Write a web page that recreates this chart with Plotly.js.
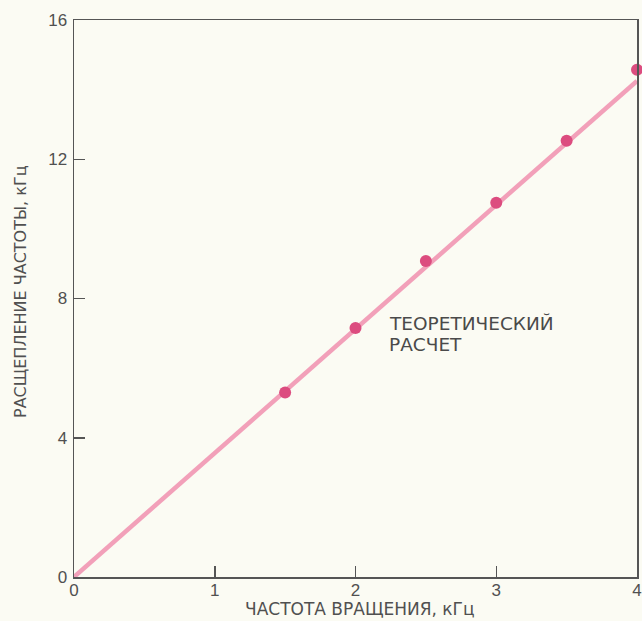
<!DOCTYPE html>
<html>
<head>
<meta charset="utf-8">
<script src="https://cdn.plot.ly/plotly-3.0.1.min.js"></script>
<style>html,body{margin:0;padding:0;background:#fbfbf3;}</style>
</head>
<body>
<div id="chart" style="width:642px;height:621px;"></div>
<script>
const rotationFreq = [1.5, 2.0, 2.5, 3.0, 3.5, 4.0];
const splitting = [5.3, 7.15, 9.08, 10.75, 12.53, 14.57];
const theoryX = [0, 4];
const theoryY = [0, 14.25];
const xTicks = [0, 1, 2, 3, 4];
const yTicks = [0, 4, 8, 12, 16];
const xTitle = 'ЧАСТОТА ВРАЩЕНИЯ, кГц';
const yTitle = 'РАСЩЕПЛЕНИЕ ЧАСТОТЫ, кГц';
const noteLines = ['ТЕОРЕТИЧЕСКИЙ', 'РАСЧЕТ'];

const wideFont = 'DejaVu Sans, Verdana, sans-serif';
const traces = [
  {x: theoryX, y: theoryY, mode: 'lines', line: {color: '#f2a0b9', width: 4.5}, hoverinfo: 'none', cliponaxis: false},
  {x: rotationFreq, y: splitting, mode: 'markers', marker: {color: '#dc4c7f', size: 12}, cliponaxis: false}
];

const axisCommon = {
  showgrid: false, zeroline: false, showline: true, mirror: true,
  linecolor: '#555', linewidth: 1.5,
  ticks: 'inside', ticklen: 11, tickcolor: '#555', tickwidth: 1.5,
  tickfont: {family: 'Liberation Sans, Arial, sans-serif', size: 17, color: '#505050'}
};

const plotL = 74, plotR = 5, plotT = 20, plotB = 44;
const plotW = 642 - plotL - plotR, plotH = 621 - plotT - plotB;
const px = (x) => (x - plotL) / plotW;
const py = (y) => (621 - plotB - y) / plotH;

const layout = {
  width: 642, height: 621,
  paper_bgcolor: '#fbfbf3', plot_bgcolor: '#fbfbf3',
  margin: {l: plotL, r: plotR, t: plotT, b: plotB},
  showlegend: false,
  xaxis: Object.assign({}, axisCommon, {
    range: [0, 4], tickvals: xTicks, ticktext: xTicks.map(String),
    ticklabelstandoff: -3
  }),
  yaxis: Object.assign({}, axisCommon, {
    range: [0, 16], tickvals: yTicks, ticktext: yTicks.map(String),
    ticklabelstandoff: 2
  }),
  annotations: [
    {
      x: px(387), y: py(324), xref: 'paper', yref: 'paper', xanchor: 'left', yanchor: 'middle',
      text: noteLines[0], showarrow: false,
      font: {family: wideFont, size: 18.5, color: '#4a4a4a'}
    },
    {
      x: px(387), y: py(344), xref: 'paper', yref: 'paper', xanchor: 'left', yanchor: 'middle',
      text: noteLines[1], showarrow: false,
      font: {family: wideFont, size: 18.5, color: '#4a4a4a'}
    },
    {
      x: px(20), y: py(292), xref: 'paper', yref: 'paper', xanchor: 'center', yanchor: 'middle',
      text: yTitle, showarrow: false,
      textangle: -90, font: {family: wideFont, size: 16, color: '#505050'}
    },
    {
      x: px(360), y: py(609), xref: 'paper', yref: 'paper', xanchor: 'center', yanchor: 'middle',
      text: xTitle, showarrow: false,
      font: {family: wideFont, size: 17, color: '#505050'}
    }
  ]
};

Plotly.newPlot('chart', traces, layout, {staticPlot: true, displayModeBar: false});
</script>
</body>
</html>
